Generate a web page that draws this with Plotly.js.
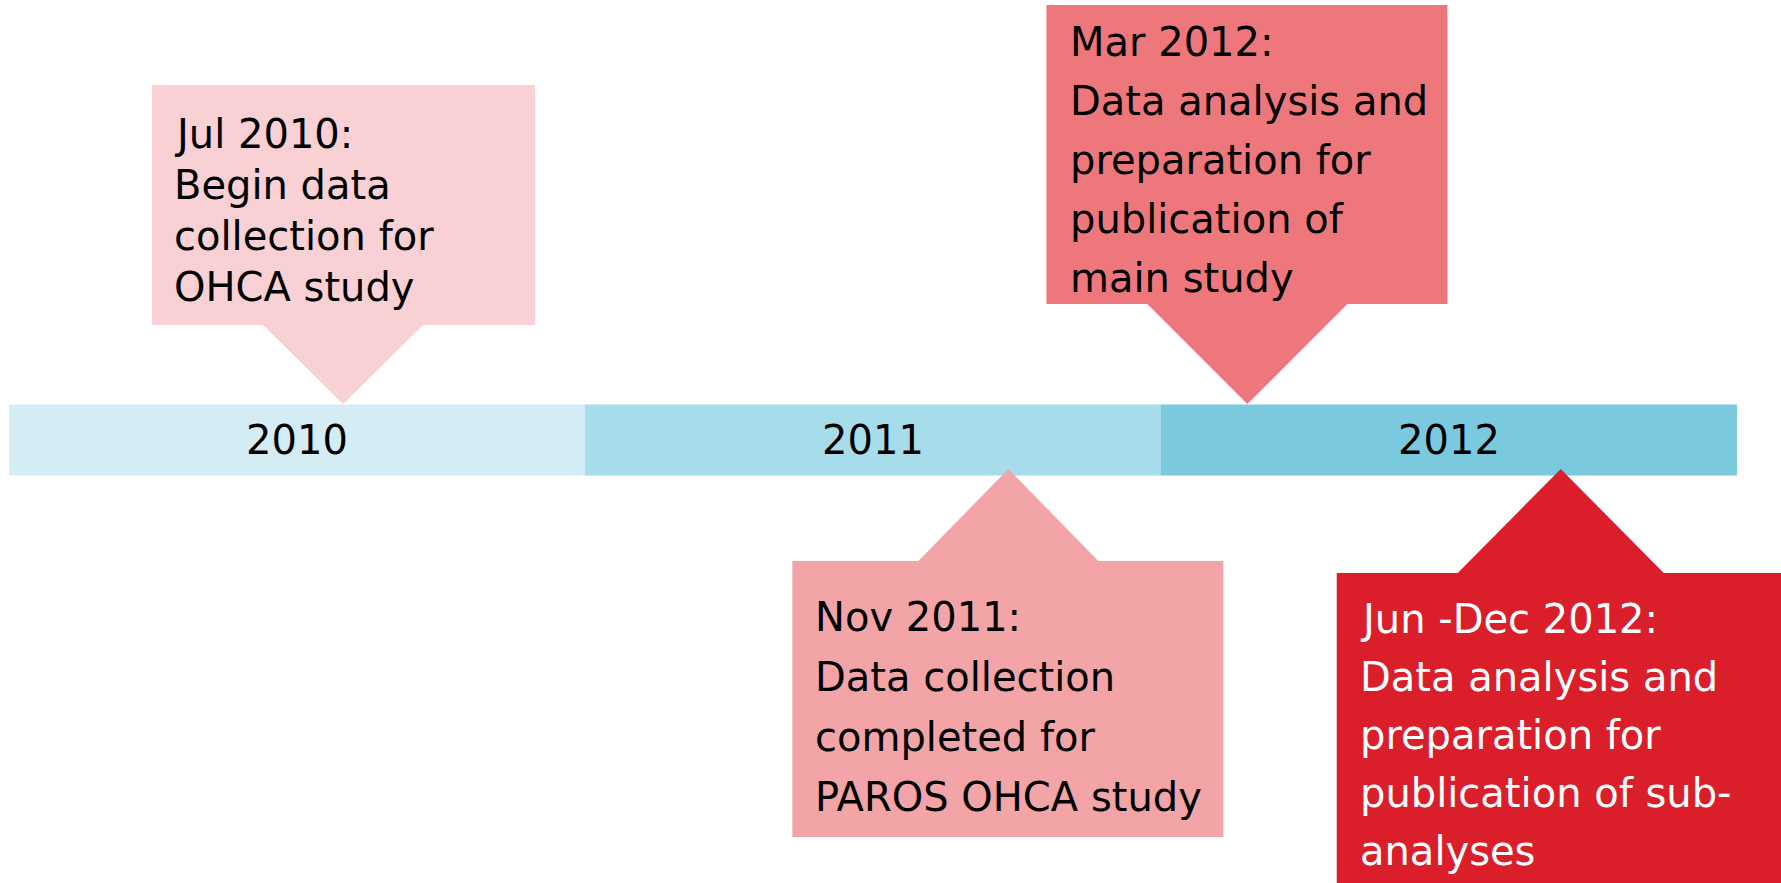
<!DOCTYPE html>
<html>
<head>
<meta charset="utf-8">
<script src="https://cdn.plot.ly/plotly-3.0.1.min.js"></script>
<style>html,body{margin:0;padding:0;background:#fff;}#chart{width:1781px;height:883px;}</style>
</head>
<body>
<div id="chart"></div>
<script>
// ---- data ----
const years = [2010, 2011, 2012];
const yearLabels = ["2010", "2011", "2012"];
const eventDates = [2010.58, 2011.735, 2012.15, 2012.694]; // decimal year of pointer
const eventLines = [
  ["Jul 2010:", "Begin data", "collection for", "OHCA study"],
  ["Nov 2011:", "Data collection", "completed for", "PAROS OHCA study"],
  ["Mar 2012:", "Data analysis and", "preparation for", "publication of", "main study"],
  ["Jun -Dec 2012:", "Data analysis and", "preparation for", "publication of sub-", "analyses"]
];

// ---- styles / geometry (pixels) ----
const W = 1781, H = 883;
const x0px = 9, pxPerYear = 576;
const yearColors = ["#D4EDF5", "#A7DCEA", "#7BC9DF"];
const barCenter = 440, barHeight = 71;
const boxStyles = [
  {fill: "#F9D0D3", text: "#000000", left: -191, right: 192, top: 85,  bottom: 325, tri: 80,  apex: 404, base: 325, textLeft: -171, firstLine: 134, step: 51},
  {fill: "#F2A4A7", text: "#000000", left: -216, right: 215, top: 561, bottom: 837, tri: 90,  apex: 469, base: 561, textLeft: -195, firstLine: 617, step: 60},
  {fill: "#EE777C", text: "#000000", left: -201, right: 200, top: 5,   bottom: 304, tri: 100, apex: 404, base: 304, textLeft: -179, firstLine: 42,  step: 59},
  {fill: "#DA1F2B", text: "#FFFFFF", left: -224, right: 240, top: 573, bottom: 900, tri: 103, apex: 469, base: 573, textLeft: -203, firstLine: 619, step: 58}
];
const font = "DejaVu Sans";
const fsize = 40;

const px2x = p => p / pxPerYear;

const shapes = [];
const annotations = [];
eventDates.forEach((d, i) => {
  const s = boxStyles[i];
  const L = d + px2x(s.left), R = d + px2x(s.right);
  const tL = d - px2x(s.tri), tR = d + px2x(s.tri);
  const path = `M ${L} ${s.top} L ${R} ${s.top} L ${R} ${s.bottom} L ${L} ${s.bottom} Z ` +
               `M ${tL} ${s.base} L ${d} ${s.apex} L ${tR} ${s.base} Z`;
  shapes.push({type: "path", xref: "x", yref: "y", path: path,
               fillcolor: s.fill, line: {width: 0}, layer: "above"});
  eventLines[i].forEach((ln, k) => {
    annotations.push({
      x: d + px2x(s.textLeft), y: s.firstLine + k * s.step, xref: "x", yref: "y",
      text: ln, showarrow: false, xanchor: "left", yanchor: "middle",
      font: {family: font, size: fsize, color: s.text}
    });
  });
});

const barTrace = {
  type: "bar", orientation: "h",
  base: years, x: years.map(() => 1), y: years.map(() => barCenter),
  width: barHeight,
  marker: {color: yearColors, line: {width: 0}},
  text: yearLabels, textposition: "inside", insidetextanchor: "middle",
  textangle: 0, constraintext: "none",
  textfont: {family: font, size: fsize, color: "#000000"},
  hoverinfo: "skip", showlegend: false
};

const layout = {
  width: W, height: H,
  margin: {l: 0, r: 0, t: 0, b: 0, pad: 0},
  paper_bgcolor: "#ffffff", plot_bgcolor: "#ffffff",
  showlegend: false,
  xaxis: {range: [years[0] - px2x(x0px), years[0] + px2x(W - x0px)], visible: false, fixedrange: true},
  yaxis: {range: [H, 0], visible: false, fixedrange: true},
  shapes: shapes,
  annotations: annotations
};

Plotly.newPlot("chart", [barTrace], layout, {staticPlot: true, displayModeBar: false});
</script>
</body>
</html>
